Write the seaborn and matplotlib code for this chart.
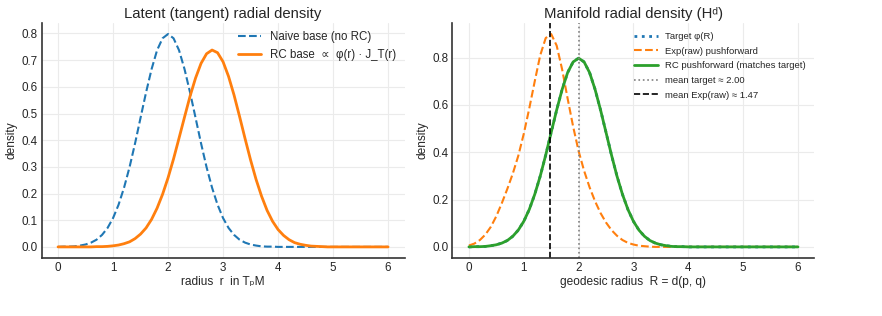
import numpy as np
import pandas as pd
import matplotlib
matplotlib.use("Agg")
import matplotlib.pyplot as plt
import seaborn as sns

# ------------------------------------------------------------
# values (grid r / R = 0.0 ... 6.0, step 0.1)
# ------------------------------------------------------------
radius = np.round(np.linspace(0, 6, 61), 1)

# left panel: latent (tangent) densities
naive_base = [0.000, 0.001, 0.001, 0.002, 0.005, 0.009, 0.016, 0.027, 0.045, 0.071,
              0.108, 0.158, 0.222, 0.299, 0.388, 0.484, 0.579, 0.666, 0.737, 0.782,
              0.798, 0.782, 0.737, 0.666, 0.579, 0.484, 0.388, 0.299, 0.222, 0.158,
              0.108, 0.071, 0.045, 0.027, 0.016, 0.009, 0.005, 0.002, 0.001, 0.001,
              0.000] + [0.0] * 20
rc_base = [0.000] * 7 + [
              0.001, 0.001, 0.002, 0.004, 0.007, 0.012, 0.019, 0.031, 0.048, 0.071,
              0.103, 0.145, 0.197, 0.259, 0.330, 0.408, 0.487, 0.565, 0.633, 0.688,
              0.724, 0.738, 0.728, 0.694, 0.639, 0.569, 0.489, 0.406, 0.326, 0.253,
              0.190, 0.137, 0.096, 0.065, 0.043, 0.027, 0.016, 0.010, 0.006, 0.003,
              0.002, 0.001] + [0.0] * 12

# right panel: manifold densities (target is the same N(2, 0.5) shape)
target_phi = [0.000, 0.001, 0.001, 0.002, 0.005, 0.009, 0.016, 0.027, 0.045, 0.071,
              0.108, 0.158, 0.222, 0.299, 0.388, 0.484, 0.579, 0.666, 0.737, 0.782,
              0.798, 0.782, 0.737, 0.666, 0.579, 0.484, 0.388, 0.299, 0.222, 0.158,
              0.108, 0.071, 0.045, 0.027, 0.016, 0.009, 0.005, 0.002, 0.001, 0.001,
              0.000] + [0.0] * 20
rc_push = list(target_phi)
exp_raw = [0.006, 0.014, 0.029, 0.052, 0.085, 0.130, 0.185, 0.245, 0.310, 0.385,
           0.478, 0.585, 0.700, 0.810, 0.883, 0.900, 0.851, 0.750, 0.627, 0.509,
           0.405, 0.322, 0.252, 0.193, 0.143, 0.103, 0.071, 0.047, 0.029, 0.017,
           0.010, 0.005, 0.003, 0.001] + [0.0] * 27

mean_target = 2.00
mean_exp_raw = 1.47

# ------------------------------------------------------------
# style
# ------------------------------------------------------------
sns.set_style("whitegrid")
plt.rcParams['font.family'] = ['Liberation Sans', 'DejaVu Sans']
plt.rcParams.update({
    'grid.color': '0.92',
    'axes.edgecolor': '0.2',
    'axes.linewidth': 1.2,
    'xtick.labelsize': 8.4,
    'ytick.labelsize': 8.4,
    'axes.labelsize': 8.6,
    'axes.titlesize': 10.7,
    'axes.titlepad': 4.0,
    'xtick.color': '0.15',
    'ytick.color': '0.15',
    'xtick.major.size': 0,
    'ytick.major.size': 0,
    'xtick.major.pad': 3.5,
    'ytick.major.pad': 3.0,
    'axes.labelpad': 2.5,
})

blue, orange, green = '#1f77b4', '#ff7f0e', '#2ca02c'

fig = plt.figure(figsize=(8.82, 3.16), dpi=100)
ax1 = fig.add_axes([0.0471, 0.185, 0.4116, 0.741])
ax2 = fig.add_axes([0.513, 0.185, 0.4104, 0.741])

# ---- left: latent radial density ----
sns.lineplot(x=radius, y=naive_base, ax=ax1, color=blue, linestyle='--', linewidth=1.5,
             label='Naive base (no RC)')
sns.lineplot(x=radius, y=rc_base, ax=ax1, color=orange, linewidth=2.0,
             label='RC base  \u221d  \u03c6(r) \u00b7 J_T(r)')
ax1.set_title('Latent (tangent) radial density')
ax1.set_xlabel('radius  r  in T\u209aM', labelpad=1.0)
ax1.set_ylabel('density')
ax1.legend(loc='upper right', frameon=False, fontsize=8.3, handlelength=2.0,
           borderaxespad=0.3)

# ---- right: manifold radial density ----
sns.lineplot(x=radius, y=target_phi, ax=ax2, color=blue, linestyle=':', linewidth=2.0,
             label='Target \u03c6(R)')
sns.lineplot(x=radius, y=exp_raw, ax=ax2, color=orange, linestyle='--', linewidth=1.5,
             label='Exp(raw) pushforward')
sns.lineplot(x=radius, y=rc_push, ax=ax2, color=green, linewidth=2.0,
             label='RC pushforward (matches target)')
ax2.axvline(mean_target, color='gray', linestyle=':', linewidth=1.2,
            label=f'mean target \u2248 {mean_target:.2f}')
ax2.axvline(mean_exp_raw, color='black', linestyle='--', linewidth=1.2,
            label=f'mean Exp(raw) \u2248 {mean_exp_raw:.2f}')
ax2.set_title('Manifold radial density (H\u1d48)')
ax2.set_xlabel('geodesic radius  R = d(p, q)', labelpad=1.0)
ax2.set_ylabel('density')
ax2.legend(loc='upper right', frameon=False, fontsize=6.8, handlelength=2.5,
           labelspacing=0.6)

for ax in (ax1, ax2):
    ax.set_xticks(range(7))
    sns.despine(ax=ax)

fig.savefig('out.png', dpi=100)
